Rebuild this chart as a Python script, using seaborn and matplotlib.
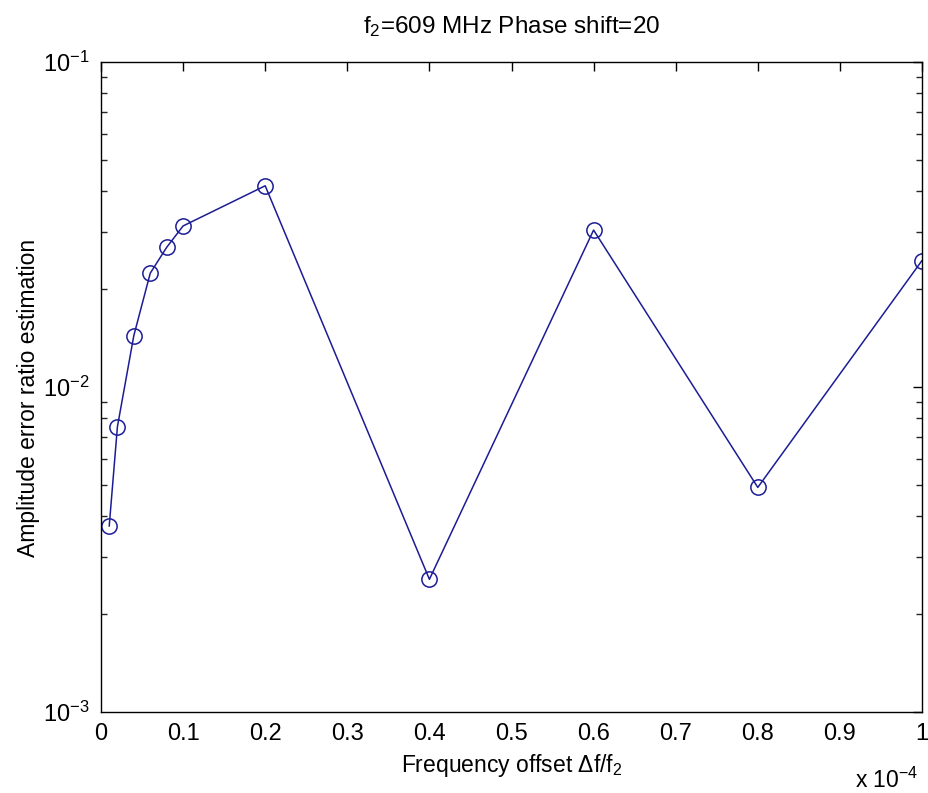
import numpy as np
import pandas as pd
import matplotlib
matplotlib.use("Agg")
import matplotlib.pyplot as plt
from matplotlib.ticker import FuncFormatter, LogLocator, FixedLocator
import seaborn as sns

# Data (x in units of 1e-4)
freq_offset_e4 = [0.01, 0.02, 0.04, 0.06, 0.08, 0.1, 0.2, 0.4, 0.6, 0.8, 1.0]
amp_error = [0.00373, 0.00755, 0.0144, 0.0224, 0.0269, 0.0313, 0.0416,
             0.00256, 0.0304, 0.00491, 0.0245]
x_ticks_e4 = [0, 0.1, 0.2, 0.3, 0.4, 0.5, 0.6, 0.7, 0.8, 0.9, 1.0]

sns.set_style("white")
plt.rcParams['font.family'] = ['Liberation Sans', 'DejaVu Sans']
plt.rcParams['mathtext.fontset'] = 'custom'
plt.rcParams['mathtext.rm'] = 'Liberation Sans'
plt.rcParams['mathtext.it'] = 'Liberation Sans'
plt.rcParams['text.color'] = 'black'
plt.rcParams['axes.labelcolor'] = 'black'

df = pd.DataFrame({"x": np.array(freq_offset_e4) * 1e-4, "y": amp_error})

fig = plt.figure(figsize=(9.29, 7.93), dpi=100)
ax = fig.add_axes([101/929, 1 - 712/793, 821/929, 650/793])

color = "#1c1c96"
sns.lineplot(data=df, x="x", y="y", ax=ax, color=color, lw=1.1,
             marker="o", markersize=11, markerfacecolor="none",
             markeredgecolor=color, markeredgewidth=1.1, sort=False)

ax.set_yscale("log")
ax.set_ylim(1e-3, 1e-1)
ax.set_xlim(0, 1e-4)
ax.xaxis.set_major_locator(FixedLocator([v * 1e-4 for v in x_ticks_e4]))
ax.xaxis.set_major_formatter(FuncFormatter(lambda v, p: f"{v/1e-4:g}"))
ax.yaxis.set_major_locator(LogLocator(base=10, numticks=10))
ax.yaxis.set_minor_locator(LogLocator(base=10, subs=np.arange(2, 10), numticks=20))

for s in ax.spines.values():
    s.set_visible(True)
    s.set_color("black")
    s.set_linewidth(1.0)

ax.tick_params(axis="both", which="major", direction="in", length=6.5, width=1,
               top=True, right=True, labelsize=17, colors="black", pad=8)
ax.tick_params(axis="y", which="minor", direction="in", length=4, width=1,
               left=True, right=True)

ax.set_xlabel("Frequency offset Δf/f$_2$", fontsize=16.5, labelpad=5)
ax.set_ylabel("Amplitude error ratio estimation", fontsize=16.5)
ax.yaxis.set_label_coords(-0.074, 0.483)
ax.set_title("f$_2$=609 MHz Phase shift=20", fontsize=17.5, pad=21)
fig.text(918/929, 1 - 780/793, "x 10$^{-4}$", fontsize=16.5, ha="right", va="center")

fig.savefig("out.png", dpi=100, facecolor="white")
